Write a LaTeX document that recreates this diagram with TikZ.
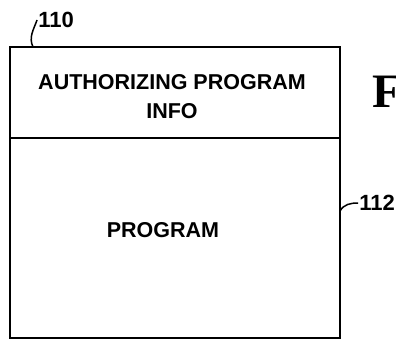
\documentclass[tikz,border=0pt]{standalone}
\usepackage{fontspec}
\setmainfont{Liberation Serif}
\setsansfont{Liberation Sans}
\usetikzlibrary{positioning}

\tikzset{
    caja/.style={draw, line width=1.7pt, minimum width=330pt, inner sep=0pt},
    texto/.style={font=\sffamily\bfseries\fontsize{21.5}{29}\selectfont, align=center, inner sep=0pt},
    etiqueta/.style={font=\sffamily\bfseries\fontsize{22}{22}\selectfont, inner sep=1pt},
    guia/.style={line width=1.5pt}
}

\begin{document}
\begin{tikzpicture}[x=1pt,y=-1pt]
        % Paso 1: Fija el marco de la imagen
        \useasboundingbox (0,0) rectangle (396,343);

        % Paso 2: Dibuja las dos partes de la caja
        \node[caja, minimum height=91pt] (info) at (175,92.5) {};
        \node[caja, minimum height=200pt, below=-1.7pt of info] (prog) {};

        % Paso 3: Escribe los textos de cada parte
        \node[texto] (infotxt) at ([xshift=-3pt,yshift=-4pt]info.center)
            {AUTHORIZING PROGRAM\\INFO};
        \node[texto] (progtxt) at ([xshift=-12pt,yshift=8pt]prog.center) {PROGRAM};

        % Paso 4: Etiquetas de referencia y sus guias
        \node[etiqueta] (lbl110) at (56,20) {110};
        \coordinate (c110) at (33,47);
        \draw[guia] (c110) to[out=115,in=-110] (lbl110.west);

        \node[etiqueta] (lbl112) at (377,203) {112};
        \coordinate (c112) at (340,211);
        \draw[guia] (c112) to[out=60,in=180] (lbl112.west);

        % Paso 5: Letra de la figura (cortada en el borde)
        \node[font=\bfseries\fontsize{48}{48}\selectfont, anchor=west, inner sep=0pt]
            (fig) at (372,92) {F};
    \end{tikzpicture}
\end{document}
